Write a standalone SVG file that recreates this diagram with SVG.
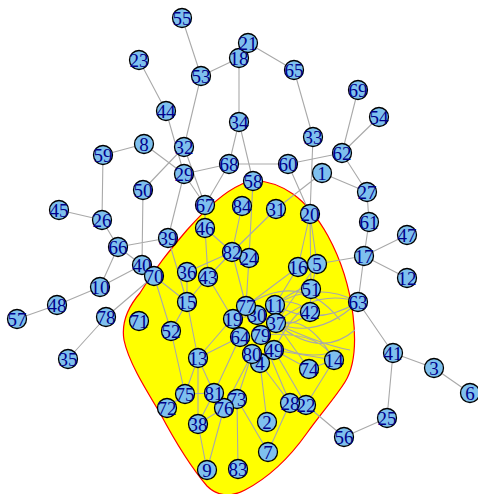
<svg xmlns="http://www.w3.org/2000/svg" width="478" height="494" viewBox="0 0 478 494">
<style>
.e{stroke:#a9a9a9;stroke-width:1.1;fill:none}
.n circle{fill:#7ec0ee;stroke:#000;stroke-width:1.3}
.n text{font-family:"Liberation Serif",serif;font-size:19px;fill:#00008b;text-anchor:middle}
</style>
<rect width="478" height="494" fill="#fff"/>
<path id="hull" d="M255,181 C266,181 280,185 293,194 C307,204 318,218 328,236 C340,258 349,283 353,315 C356,340 355,366 345,382 C335,398 322,412 307,433 C290,457 268,478 245,490 C232,497 218,497 207,486 C195,472 178,447 160,413 C143,385 128,360 124,340 C121,322 128,307 140,293 C155,268 170,250 187,230 C203,212 222,193 240,185 C245,182 250,181 255,181 Z" fill="#ffff00" stroke="#ff0000" stroke-width="1.2"/>
<g id="edges" class="e">
<path d="M182,18L201,76M139,60L166,111M201,76L239,58M201,76L184,147M248,43L294,70M294,70L313,137M313,137L310,214M239,58L239,122M239,122L229,164M239,122L253,181M166,111L184,174M144,144L103,155M144,144L184,174M184,147L143,190M184,147L205,205M184,174L205,205M229,164L184,174M229,164L288,164M229,164L205,205M288,164L342,153M288,164L310,214M342,153L358,90M342,153L379,117M342,153L367,192M322,173L367,192M322,173L276,209M276,209L232,252M367,192L369,222M369,222L364,256M364,256L407,235M364,256L407,278M364,256L317,264M364,256L358,302M358,302L393,353M393,353L434,368M434,368L470,393M393,353L387,418M387,418L344,437M344,437L306,405"/>
<path d="M103,155L102,220M59,210L102,220M102,220L118,247M118,247L168,238M118,247L100,287M118,247L142,265M100,287L142,265M100,287L57,305M57,305L17,319M143,190L142,265M168,238L184,174M106,317L154,276M106,317L68,359M154,276L171,331M154,276L187,302M142,265L154,276M168,238L187,302"/>
<path d="M205,228L205,205M205,228L232,252M205,228L208,277M242,206L232,252M232,252L249,258M232,252L187,272M232,252L208,277M253,181L249,258M187,272L187,302M208,277L187,302M208,277L233,319M232,252L246,306M249,258L246,306M187,302L198,358M187,302L171,331M198,358L185,394M198,358L198,424M198,358L214,393M198,358L240,337M171,331L185,394M185,394L167,408M185,394L214,393M214,393L224,408M214,393L198,424M224,408L198,424M224,408L207,470M198,424L207,470M224,408L237,399M237,399L238,469M237,399L268,452M214,393L240,337M224,408L252,354M260,363L267,422M268,452L290,403M290,403L260,363M306,405L274,350M306,405L334,360M290,403L261,335M237,399L252,354"/>
<path d="M310,214L298,267M310,214L317,264M310,214L311,289M317,264L311,289M311,289L310,312M298,267L275,305M298,267L246,306M317,264L276,323M233,319L246,306M233,319L240,337M240,337L252,354M240,337L261,335M252,354L260,363M261,335L274,350M261,335L276,323M275,305L276,323M246,306L257,315M257,315L275,305M274,350L309,369M309,369L334,360M276,323L309,369M274,350L334,360M233,319L257,315M243,306L198,358"/>
<path d="M275,305Q316,280 358,302M275,305Q316,328 358,302M276,323Q318,288 358,302M276,323Q318,340 358,302M261,335Q300,300 334,360M261,335Q320,330 334,360M257,315Q285,290 310,312M257,315Q285,335 310,312M274,350Q300,300 310,312M275,305Q300,285 311,289M276,323Q320,360 355,330M246,306Q300,270 340,320M257,315Q320,345 350,350M261,335Q300,365 340,350"/>
</g>
<g class="n">
<g id="n1"><circle cx="322" cy="173" r="9.5"/><text x="322" y="180">1</text></g>
<g id="n2"><circle cx="267" cy="422" r="9.5"/><text x="267" y="429">2</text></g>
<g id="n3"><circle cx="434" cy="368" r="9.5"/><text x="434" y="375">3</text></g>
<g id="n4"><circle cx="260" cy="363" r="9.5"/><text x="260" y="370">4</text></g>
<g id="n5"><circle cx="317" cy="264" r="9.5"/><text x="317" y="271">5</text></g>
<g id="n6"><circle cx="470" cy="393" r="9.5"/><text x="470" y="400">6</text></g>
<g id="n7"><circle cx="268" cy="452" r="9.5"/><text x="268" y="459">7</text></g>
<g id="n8"><circle cx="144" cy="144" r="9.5"/><text x="144" y="151">8</text></g>
<g id="n9"><circle cx="207" cy="470" r="9.5"/><text x="207" y="477">9</text></g>
<g id="n10"><circle cx="100" cy="287" r="9.5"/><text x="100" y="294">10</text></g>
<g id="n11"><circle cx="275" cy="305" r="9.5"/><text x="275" y="312">11</text></g>
<g id="n12"><circle cx="407" cy="278" r="9.5"/><text x="407" y="285">12</text></g>
<g id="n13"><circle cx="198" cy="358" r="9.5"/><text x="198" y="365">13</text></g>
<g id="n14"><circle cx="334" cy="360" r="9.5"/><text x="334" y="367">14</text></g>
<g id="n15"><circle cx="187" cy="302" r="9.5"/><text x="187" y="309">15</text></g>
<g id="n16"><circle cx="298" cy="267" r="9.5"/><text x="298" y="274">16</text></g>
<g id="n17"><circle cx="364" cy="256" r="9.5"/><text x="364" y="263">17</text></g>
<g id="n18"><circle cx="239" cy="58" r="9.5"/><text x="239" y="65">18</text></g>
<g id="n19"><circle cx="233" cy="319" r="9.5"/><text x="233" y="326">19</text></g>
<g id="n20"><circle cx="310" cy="214" r="9.5"/><text x="310" y="221">20</text></g>
<g id="n21"><circle cx="248" cy="43" r="9.5"/><text x="248" y="50">21</text></g>
<g id="n22"><circle cx="306" cy="405" r="9.5"/><text x="306" y="412">22</text></g>
<g id="n23"><circle cx="139" cy="60" r="9.5"/><text x="139" y="67">23</text></g>
<g id="n24"><circle cx="249" cy="258" r="9.5"/><text x="249" y="265">24</text></g>
<g id="n25"><circle cx="387" cy="418" r="9.5"/><text x="387" y="425">25</text></g>
<g id="n26"><circle cx="102" cy="220" r="9.5"/><text x="102" y="227">26</text></g>
<g id="n27"><circle cx="367" cy="192" r="9.5"/><text x="367" y="199">27</text></g>
<g id="n28"><circle cx="290" cy="403" r="9.5"/><text x="290" y="410">28</text></g>
<g id="n29"><circle cx="184" cy="174" r="9.5"/><text x="184" y="181">29</text></g>
<g id="n30"><circle cx="257" cy="315" r="9.5"/><text x="257" y="322">30</text></g>
<g id="n31"><circle cx="276" cy="209" r="9.5"/><text x="276" y="216">31</text></g>
<g id="n32"><circle cx="184" cy="147" r="9.5"/><text x="184" y="154">32</text></g>
<g id="n33"><circle cx="313" cy="137" r="9.5"/><text x="313" y="144">33</text></g>
<g id="n34"><circle cx="239" cy="122" r="9.5"/><text x="239" y="129">34</text></g>
<g id="n35"><circle cx="68" cy="359" r="9.5"/><text x="68" y="366">35</text></g>
<g id="n36"><circle cx="187" cy="272" r="9.5"/><text x="187" y="279">36</text></g>
<g id="n37"><circle cx="276" cy="323" r="9.5"/><text x="276" y="330">37</text></g>
<g id="n38"><circle cx="198" cy="424" r="9.5"/><text x="198" y="431">38</text></g>
<g id="n39"><circle cx="168" cy="238" r="9.5"/><text x="168" y="245">39</text></g>
<g id="n40"><circle cx="142" cy="265" r="9.5"/><text x="142" y="272">40</text></g>
<g id="n41"><circle cx="393" cy="353" r="9.5"/><text x="393" y="360">41</text></g>
<g id="n42"><circle cx="310" cy="312" r="9.5"/><text x="310" y="319">42</text></g>
<g id="n43"><circle cx="208" cy="277" r="9.5"/><text x="208" y="284">43</text></g>
<g id="n44"><circle cx="166" cy="111" r="9.5"/><text x="166" y="118">44</text></g>
<g id="n45"><circle cx="59" cy="210" r="9.5"/><text x="59" y="217">45</text></g>
<g id="n46"><circle cx="205" cy="228" r="9.5"/><text x="205" y="235">46</text></g>
<g id="n47"><circle cx="407" cy="235" r="9.5"/><text x="407" y="242">47</text></g>
<g id="n48"><circle cx="57" cy="305" r="9.5"/><text x="57" y="312">48</text></g>
<g id="n49"><circle cx="274" cy="350" r="9.5"/><text x="274" y="357">49</text></g>
<g id="n50"><circle cx="143" cy="190" r="9.5"/><text x="143" y="197">50</text></g>
<g id="n51"><circle cx="311" cy="289" r="9.5"/><text x="311" y="296">51</text></g>
<g id="n52"><circle cx="171" cy="331" r="9.5"/><text x="171" y="338">52</text></g>
<g id="n53"><circle cx="201" cy="76" r="9.5"/><text x="201" y="83">53</text></g>
<g id="n54"><circle cx="379" cy="117" r="9.5"/><text x="379" y="124">54</text></g>
<g id="n55"><circle cx="182" cy="18" r="9.5"/><text x="182" y="25">55</text></g>
<g id="n56"><circle cx="344" cy="437" r="9.5"/><text x="344" y="444">56</text></g>
<g id="n57"><circle cx="17" cy="319" r="9.5"/><text x="17" y="326">57</text></g>
<g id="n58"><circle cx="253" cy="181" r="9.5"/><text x="253" y="188">58</text></g>
<g id="n59"><circle cx="103" cy="155" r="9.5"/><text x="103" y="162">59</text></g>
<g id="n60"><circle cx="288" cy="164" r="9.5"/><text x="288" y="171">60</text></g>
<g id="n61"><circle cx="369" cy="222" r="9.5"/><text x="369" y="229">61</text></g>
<g id="n62"><circle cx="342" cy="153" r="9.5"/><text x="342" y="160">62</text></g>
<g id="n63"><circle cx="358" cy="302" r="9.5"/><text x="358" y="309">63</text></g>
<g id="n64"><circle cx="240" cy="337" r="9.5"/><text x="240" y="344">64</text></g>
<g id="n65"><circle cx="294" cy="70" r="9.5"/><text x="294" y="77">65</text></g>
<g id="n66"><circle cx="118" cy="247" r="9.5"/><text x="118" y="254">66</text></g>
<g id="n67"><circle cx="205" cy="205" r="9.5"/><text x="205" y="212">67</text></g>
<g id="n68"><circle cx="229" cy="164" r="9.5"/><text x="229" y="171">68</text></g>
<g id="n69"><circle cx="358" cy="90" r="9.5"/><text x="358" y="97">69</text></g>
<g id="n70"><circle cx="154" cy="276" r="9.5"/><text x="154" y="283">70</text></g>
<g id="n71"><circle cx="139" cy="321" r="9.5"/><text x="139" y="328">71</text></g>
<g id="n72"><circle cx="167" cy="408" r="9.5"/><text x="167" y="415">72</text></g>
<g id="n73"><circle cx="237" cy="399" r="9.5"/><text x="237" y="406">73</text></g>
<g id="n74"><circle cx="309" cy="369" r="9.5"/><text x="309" y="376">74</text></g>
<g id="n75"><circle cx="185" cy="394" r="9.5"/><text x="185" y="401">75</text></g>
<g id="n76"><circle cx="224" cy="408" r="9.5"/><text x="224" y="415">76</text></g>
<g id="n77"><circle cx="246" cy="306" r="9.5"/><text x="246" y="313">77</text></g>
<g id="n78"><circle cx="106" cy="317" r="9.5"/><text x="106" y="324">78</text></g>
<g id="n79"><circle cx="261" cy="335" r="9.5"/><text x="261" y="342">79</text></g>
<g id="n80"><circle cx="252" cy="354" r="9.5"/><text x="252" y="361">80</text></g>
<g id="n81"><circle cx="214" cy="393" r="9.5"/><text x="214" y="400">81</text></g>
<g id="n82"><circle cx="232" cy="252" r="9.5"/><text x="232" y="259">82</text></g>
<g id="n83"><circle cx="238" cy="469" r="9.5"/><text x="238" y="476">83</text></g>
<g id="n84"><circle cx="242" cy="206" r="9.5"/><text x="242" y="213">84</text></g>
</g>
</svg>
